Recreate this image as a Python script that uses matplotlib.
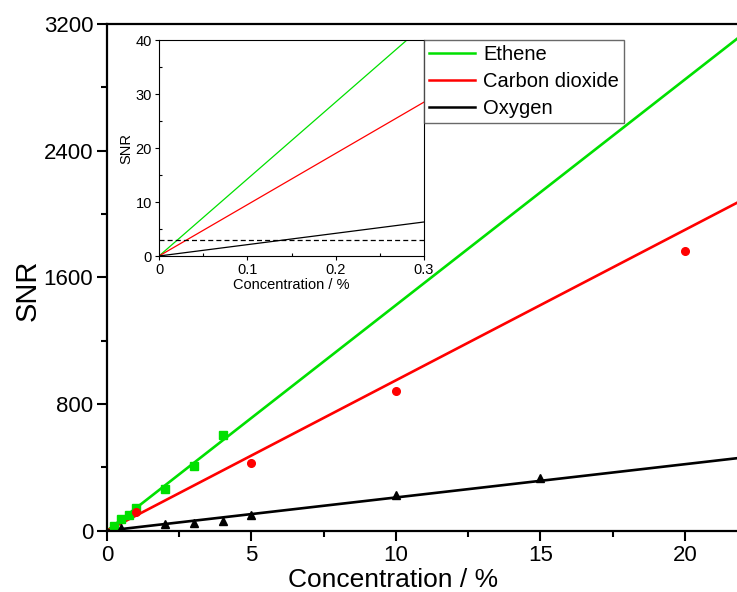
import matplotlib
matplotlib.use("Agg")
import matplotlib.pyplot as plt
import numpy as np
from matplotlib.ticker import MultipleLocator

plt.rcParams['font.family'] = ['Liberation Sans', 'DejaVu Sans']

# Data
ethene_x = [0.25, 0.5, 0.75, 1, 2, 3, 4]
ethene_y = [30, 72, 100, 142, 263, 410, 605]
co2_x = [1, 5, 10, 20]
co2_y = [119, 428, 882, 1768]
o2_x = [0.5, 2, 3, 4, 5, 10, 15]
o2_y = [20, 43, 49, 62, 100, 225, 333]

# Fitted slopes (SNR per %)
slope_ethene = 142.5
slope_co2 = 95.0
slope_o2 = 21.0
lod_level = 3

names = ["Ethene", "Carbon dioxide", "Oxygen"]
green = "#00e000"
red = "#ff0000"
black = "#000000"

fig = plt.figure(figsize=(7.37, 5.92), dpi=100)
ax = fig.add_axes([107/737, 1-530.7/592, 1-107/737, (530.7-24)/592])

xfit = np.array([0, 30])
ax.plot(xfit, slope_ethene*xfit, color=green, lw=1.9)
ax.plot(xfit, slope_co2*xfit, color=red, lw=1.9)
ax.plot(xfit, slope_o2*xfit, color=black, lw=1.9)
ax.plot(ethene_x, ethene_y, 's', color=green, ms=5.5, mec=green)
ax.plot(co2_x, co2_y, 'o', color=red, ms=5.5)
ax.plot(o2_x, o2_y, '^', color=black, ms=6)

ax.set_xlim(0, 21.8)
ax.set_ylim(0, 3200)
ax.xaxis.set_major_locator(MultipleLocator(5))
ax.xaxis.set_minor_locator(MultipleLocator(2.5))
ax.yaxis.set_major_locator(MultipleLocator(800))
ax.yaxis.set_minor_locator(MultipleLocator(400))
ax.tick_params(which='major', direction='out', length=7, width=1.5, labelsize=16, pad=3)
ax.tick_params(which='minor', direction='out', length=4, width=1.5)
for s in ax.spines.values():
    s.set_linewidth(1.6)
ax.spines['right'].set_visible(False)

fig.text(393/737, 1-580/592, "Concentration / %", ha='center', va='center', fontsize=19)
fig.text(28/737, 1-290/592, "SNR", ha='center', va='center', rotation=90, fontsize=21)

# Inset
axi = fig.add_axes([159/737, 1-256/592, (424-159)/737, (256-40)/592])
xi = np.array([0, 0.3])
axi.plot(xi, slope_ethene*xi, color=green, lw=0.9)
axi.plot(xi, slope_co2*xi, color=red, lw=0.9)
axi.plot(xi, slope_o2*xi, color=black, lw=0.9)
axi.axhline(lod_level, color=black, lw=0.9, ls=(0, (4, 2.5)))
axi.set_xlim(0, 0.3)
axi.set_ylim(0, 40)
axi.xaxis.set_minor_locator(MultipleLocator(0.05))
axi.yaxis.set_major_locator(MultipleLocator(10))
axi.yaxis.set_minor_locator(MultipleLocator(5))
axi.set_xticks([0, 0.1, 0.2, 0.3])
axi.set_xticklabels(["0", "0.1", "0.2", "0.3"])
axi.tick_params(which='major', direction='out', length=3, width=0.8, labelsize=10.5, pad=2)
axi.tick_params(which='minor', direction='in', length=2, width=0.8)
for s in axi.spines.values():
    s.set_linewidth(0.8)
axi.set_xlabel("Concentration / %", fontsize=10.5, labelpad=1)
axi.set_ylabel("SNR", fontsize=10.5, labelpad=2)

# Legend
handles = [plt.Line2D([], [], color=c, lw=1.8) for c in (green, red, black)]
leg = fig.legend(handles, names, loc='upper left',
                 bbox_to_anchor=(424/737, 1-40/592), frameon=True, fancybox=False,
                 edgecolor='#444444', fontsize=14.5, handlelength=2.3,
                 handletextpad=0.4, labelspacing=0.4, borderpad=0.25,
                 borderaxespad=0)
leg.get_frame().set_linewidth(1.0)

fig.savefig("out.png", dpi=100)
